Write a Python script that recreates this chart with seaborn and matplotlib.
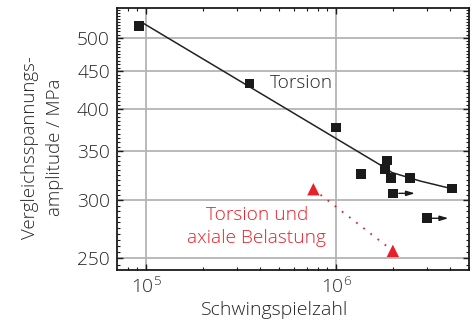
import numpy as np
import pandas as pd
import matplotlib
matplotlib.use("Agg")
import matplotlib.pyplot as plt
import matplotlib.ticker as mticker
import seaborn as sns

# Torsion (Wöhlerpunkte)
torsion_n = [9.2e4, 3.5e5, 1.0e6, 1.35e6, 1.86e6, 1.81e6, 1.94e6, 2.45e6, 4.08e6]
torsion_s = [519, 433, 377, 326, 340, 331, 322, 322, 311.5]
# Durchläufer (mit Pfeil)
runout_n = [2.0e6, 3.0e6]
runout_s = [306.7, 283.6]
# Ausgleichskurve Torsion
fit_n = [9.6e4, 1.77e6, 1.97e6, 2.77e6, 4.0e6]
fit_s = [524, 333.5, 327.4, 318.8, 311.5]
# Torsion und axiale Belastung
axial_n = [7.6e5, 1.99e6]
axial_s = [310.7, 256]

rot = '#e8202a'
txt = '#262626'

sns.set_style("ticks")
plt.rcParams['font.family'] = ['Open Sans', 'DejaVu Sans']
plt.rcParams['font.weight'] = 'light'
plt.rcParams['axes.labelweight'] = 'light'
plt.rcParams['mathtext.fontset'] = 'custom'
plt.rcParams['mathtext.rm'] = 'Open Sans:light'

fig = plt.figure(figsize=(4.77, 3.2), dpi=100)
ax = fig.add_axes([0.245, 0.156, 0.738, 0.819])
ax.set_xscale('log')
ax.set_yscale('log')

df_fit = pd.DataFrame({'N': fit_n, 'S': fit_s})
sns.lineplot(data=df_fit, x='N', y='S', ax=ax, color='#222222', lw=1.1, zorder=3)

df_t = pd.DataFrame({'N': torsion_n + runout_n, 'S': torsion_s + runout_s})
sns.scatterplot(data=df_t, x='N', y='S', ax=ax, marker='s', s=48, color='#1a1a1a',
                edgecolor='none', zorder=4)

for n, s in zip(runout_n, runout_s):
    ax.annotate('', xy=(n * 1.3, s), xytext=(n, s),
                arrowprops=dict(arrowstyle='-|>,head_length=0.5,head_width=0.15',
                                color='#1a1a1a', lw=1.0, shrinkA=4, shrinkB=0), zorder=4)

df_a = pd.DataFrame({'N': axial_n, 'S': axial_s})
sns.lineplot(data=df_a, x='N', y='S', ax=ax, color=rot, lw=1.3, ls=(0, (1, 4)), zorder=3)
sns.scatterplot(data=df_a, x='N', y='S', ax=ax, marker='^', s=80, color=rot,
                edgecolor='none', zorder=4)

ax.text(4.5e5, 434, 'Torsion', fontsize=13.7, color=txt, ha='left', va='center')
ax.text(3.83e5, 276.5, 'Torsion und\naxiale Belastung', fontsize=13.8, color=rot,
        ha='center', va='center', linespacing=1.4)

ax.set_xlim(7.03e4, 5.0e6)
ax.set_ylim(241, 549)

ax.yaxis.set_major_locator(mticker.FixedLocator([250, 300, 350, 400, 450, 500]))
ax.yaxis.set_major_formatter(mticker.FixedFormatter(['250', '300', '350', '400', '450', '500']))
ax.yaxis.set_minor_locator(mticker.FixedLocator(np.arange(240, 551, 5)))
ax.yaxis.set_minor_formatter(mticker.NullFormatter())
ax.xaxis.set_major_locator(mticker.LogLocator(base=10))
ax.xaxis.set_minor_locator(mticker.LogLocator(base=10, subs=np.arange(2, 10)))
ax.xaxis.set_minor_formatter(mticker.NullFormatter())

ax.grid(True, which='major', color='#b4b4b4', lw=1.3)
ax.tick_params(which='both', direction='in', top=True, right=True, colors='#1a1a1a',
               labelsize=13.8, labelcolor=txt)
ax.tick_params(which='major', length=4, width=1.0, pad=5)
ax.tick_params(which='minor', length=2.5, width=0.8)
for sp in ax.spines.values():
    sp.set_linewidth(1.3)
    sp.set_color('#1a1a1a')

ax.set_xlabel('Schwingspielzahl', fontsize=14, color=txt)
ax.xaxis.set_label_coords(0.449, -0.118)
ax.set_ylabel('')
fig.text(0.0891, 0.539, 'Vergleichsspannungs-\namplitude / MPa', fontsize=13.4,
         color=txt, rotation=90, ha='center', va='center', multialignment='center',
         linespacing=1.45)

fig.savefig('out.png', dpi=100)
